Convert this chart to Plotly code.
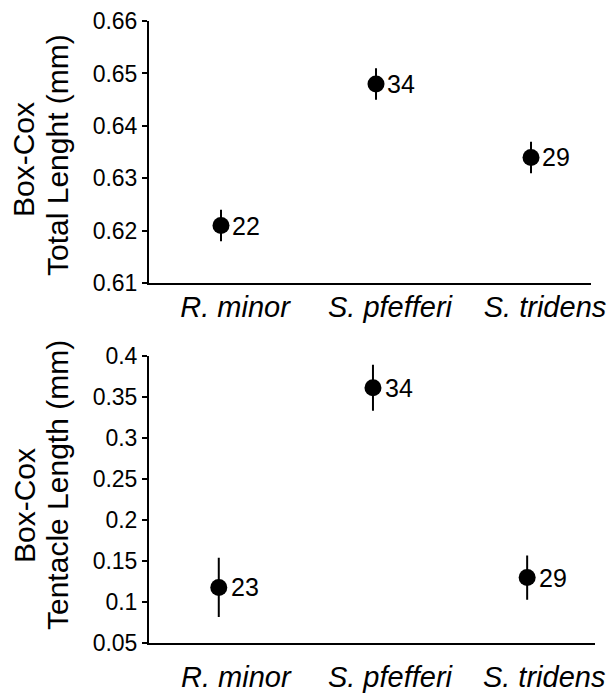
import plotly.graph_objects as go

species = ["R. minor", "S. pfefferi", "S. tridens"]

# Top panel: Box-Cox total length
total_mean = [0.621, 0.648, 0.634]
total_err = [0.003, 0.003, 0.003]
total_n = ["22", "34", "29"]
total_ticks = [0.61, 0.62, 0.63, 0.64, 0.65, 0.66]
total_ticktext = ["0.61", "0.62", "0.63", "0.64", "0.65", "0.66"]

# Bottom panel: Box-Cox tentacle length
tent_mean = [0.118, 0.361, 0.130]
tent_err = [0.036, 0.028, 0.027]
tent_n = ["23", "34", "29"]
tent_ticks = [0.05, 0.1, 0.15, 0.2, 0.25, 0.3, 0.35, 0.4]
tent_ticktext = ["0.05", "0.1", "0.15", "0.2", "0.25", "0.3", "0.35", "0.4"]

FONT = "Arial, Liberation Sans, sans-serif"
W, H = 609, 697

fig = go.Figure()
fig.add_trace(go.Scatter(
    x=species, y=total_mean, mode="markers",
    marker=dict(size=17, color="black"),
    error_y=dict(type="data", array=total_err, color="black", thickness=2, width=0),
    xaxis="x", yaxis="y", showlegend=False, hoverinfo="skip"))
fig.add_trace(go.Scatter(
    x=species, y=tent_mean, mode="markers",
    marker=dict(size=17, color="black"),
    error_y=dict(type="data", array=tent_err, color="black", thickness=2, width=0),
    xaxis="x2", yaxis="y2", showlegend=False, hoverinfo="skip"))

annotations = []
for s, v, n in zip(species, total_mean, total_n):
    annotations.append(dict(x=s, y=v, xref="x", yref="y", text=n, showarrow=False,
                            xanchor="left", yanchor="middle", xshift=9,
                            font=dict(family=FONT, size=25, color="black")))
for s, v, n in zip(species, tent_mean, tent_n):
    annotations.append(dict(x=s, y=v, xref="x2", yref="y2", text=n, showarrow=False,
                            xanchor="left", yanchor="middle", xshift=10,
                            font=dict(family=FONT, size=25, color="black")))

# y-axis titles (two lines, tight spacing)
title_font = dict(family=FONT, size=30, color="black")
annotations += [
    dict(text="Box-Cox", xref="paper", yref="paper", x=24 / W, y=1 - 160 / H,
         textangle=-90, showarrow=False, xanchor="center", yanchor="middle", font=title_font),
    dict(text="Total Lenght (mm)", xref="paper", yref="paper", x=57 / W, y=1 - 155 / H,
         textangle=-90, showarrow=False, xanchor="center", yanchor="middle", font=title_font),
    dict(text="Box-Cox", xref="paper", yref="paper", x=24 / W, y=1 - 506 / H,
         textangle=-90, showarrow=False, xanchor="center", yanchor="middle", font=title_font),
    dict(text="Tentacle Length (mm)", xref="paper", yref="paper", x=57 / W, y=1 - 485 / H,
         textangle=-90, showarrow=False, xanchor="center", yanchor="middle", font=title_font),
]

xcommon = dict(type="category", showline=True, linecolor="black", linewidth=2,
               ticks="", showgrid=False, zeroline=False, automargin=False,
               tickfont=dict(family=FONT, size=29, color="black", style="italic"))
ycommon = dict(showline=True, linecolor="black", linewidth=2, ticks="outside",
               ticklen=5, tickwidth=2, tickcolor="black", showgrid=False, zeroline=False,
               automargin=False,
               tickfont=dict(family=FONT, size=23, color="black"))

fig.update_layout(
    width=W, height=H,
    margin=dict(l=0, r=0, t=0, b=0, pad=0),
    paper_bgcolor="white", plot_bgcolor="white",
    font=dict(family=FONT, color="black"),
    xaxis=dict(domain=[149 / W, 591 / W], range=[-0.4645, 2.387], anchor="y",
               ticklabelshift=14, ticklabelstandoff=-3, **xcommon),
    yaxis=dict(domain=[1 - 283.3 / H, 1 - 21 / H], range=[0.61, 0.66], anchor="x",
               tickvals=total_ticks, ticktext=total_ticktext, **ycommon),
    xaxis2=dict(domain=[149 / W, 595 / W], range=[-0.4526, 2.44], anchor="y2",
                ticklabelshift=17, ticklabelstandoff=7, **xcommon),
    yaxis2=dict(domain=[1 - 643.3 / H, 1 - 355.7 / H], range=[0.05, 0.4], anchor="x2",
                tickvals=tent_ticks, ticktext=tent_ticktext, **ycommon),
    annotations=annotations,
)

fig.write_html("out.html",
               config={"displayModeBar": False},
               post_script="document.body.style.margin='0';document.body.style.padding='0';")
